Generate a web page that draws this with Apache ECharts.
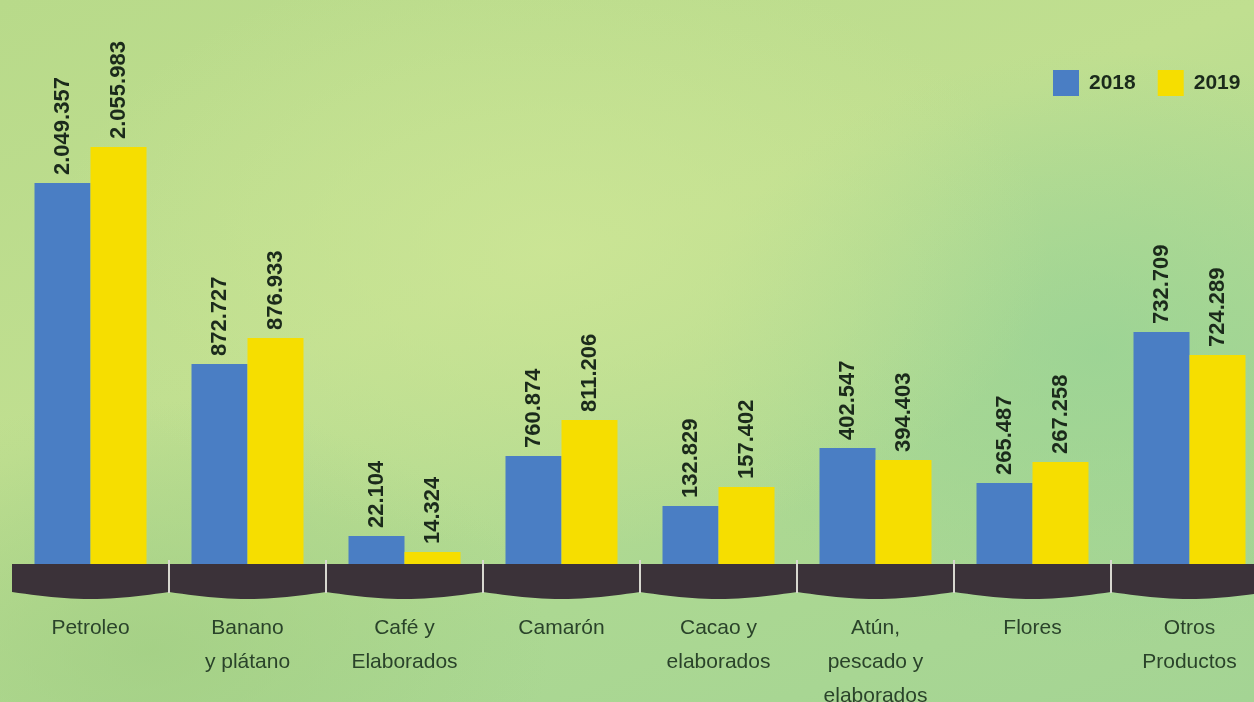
<!DOCTYPE html>
<html>
<head>
<meta charset="utf-8">
<script src="https://cdn.jsdelivr.net/npm/echarts@6/dist/echarts.min.js"></script>
<style>
html,body{margin:0;padding:0;width:1254px;height:702px;overflow:hidden;}
body{
  background:
    radial-gradient(ellipse 500px 300px at 550px 250px, rgba(205,230,150,0.8), rgba(205,230,150,0) 100%),
    radial-gradient(ellipse 400px 300px at 1100px 350px, rgba(150,210,150,0.7), rgba(150,210,150,0) 100%),
    radial-gradient(ellipse 400px 250px at 150px 650px, rgba(160,205,130,0.7), rgba(160,205,130,0) 100%),
    linear-gradient(160deg, #b8da8a 0%, #c0df90 40%, #acd892 70%, #a4d494 100%);
}
#chart{width:1254px;height:702px;}
</style>
</head>
<body>
<div id="chart"></div>
<script>
// Categories (x axis labels)
const categories = ["Petroleo", "Banano\ny plátano", "Café y\nElaborados", "Camarón", "Cacao y\nelaborados", "Atún,\npescado y\nelaborados", "Flores", "Otros\nProductos"];
const seriesNames = ["2018", "2019"];
// Values printed above the bars
const labels2018 = ["2.049.357", "872.727", "22.104", "760.874", "132.829", "402.547", "265.487", "732.709"];
const labels2019 = ["2.055.983", "876.933", "14.324", "811.206", "157.402", "394.403", "267.258", "724.289"];
// Bar heights as drawn in the picture (graphic is not to scale), in drawing units
const heights2018 = [382, 201, 29, 109, 59, 117, 82, 233];
const heights2019 = [418, 227, 13, 145, 78, 105, 103, 210];

const BLUE = '#4a7ec4';
const YELLOW = '#f6de00';

const chart = echarts.init(document.getElementById('chart'), null, {renderer: 'canvas'});

function labelCfg(arr) {
  return {
    show: true,
    position: 'top',
    rotate: 90,
    align: 'left',
    verticalAlign: 'middle',
    distance: 8,
    fontFamily: 'Liberation Sans',
    fontWeight: 'bold',
    fontSize: 22,
    color: '#1b2a1b',
    formatter: p => arr[p.dataIndex]
  };
}

const option = {
  backgroundColor: 'transparent',
  animation: false,
  legend: {
    data: seriesNames,
    left: 1048,
    top: 65,
    itemWidth: 26,
    itemHeight: 26,
    itemGap: 22,
    icon: 'rect',
    textStyle: {fontFamily: 'Liberation Sans', fontWeight: 'bold', fontSize: 21, color: '#1b2a1b', padding: [0, 0, 0, 5]}
  },
  grid: {left: 12, top: 65, width: 1256, height: 500, containLabel: false, outerBoundsMode: 'none'},
  xAxis: {
    type: 'category',
    data: categories,
    axisLine: {show: false},
    axisTick: {show: false},
    axisLabel: {
      margin: 46,
      fontFamily: 'Liberation Sans',
      fontSize: 21,
      lineHeight: 34,
      color: '#2a432a'
    }
  },
  yAxis: {type: 'value', min: 0, max: 500, show: false, splitLine: {show: false}},
  series: [
    {
      name: seriesNames[0], type: 'bar', data: heights2018, barWidth: 56, barGap: '0%',
      itemStyle: {color: BLUE}, label: labelCfg(labels2018), z: 3
    },
    {
      name: seriesNames[1], type: 'bar', data: heights2019, barWidth: 56, barGap: '0%',
      itemStyle: {color: YELLOW}, label: labelCfg(labels2019), z: 3
    },
    {
      type: 'custom',
      silent: true,
      clip: false,
      z: 4,
      data: categories.map((c, i) => [i, 0]),
      renderItem: function (params, api) {
        const i = api.value(0);
        const p = api.coord([i, 0]);
        const w = api.size([1, 0])[0];
        const x0 = p[0] - w / 2, x1 = p[0] + w / 2;
        const y = p[1] - 1;
        const pts = [[x0, y], [x1, y]];
        const n = 24;
        for (let k = n; k >= 0; k--) {
          const t = k / n;
          const xx = x0 + t * w;
          const yy = y + 28 + 7 * Math.sin(Math.PI * t);
          pts.push([xx, yy]);
        }
        const children = [{
          type: 'polygon',
          shape: {points: pts},
          style: {fill: '#3b3239'}
        }];
        if (i > 0) {
          children.push({
            type: 'line',
            shape: {x1: x0, y1: y - 4, x2: x0, y2: y + 29},
            style: {stroke: '#d8d8d0', lineWidth: 2}
          });
        }
        return {type: 'group', children: children};
      }
    }
  ]
};
chart.setOption(option);
</script>
</body>
</html>
